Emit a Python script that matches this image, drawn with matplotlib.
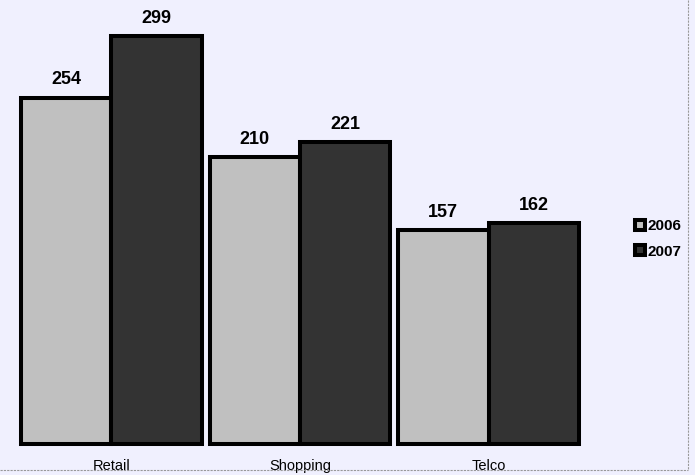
"""Grouped bar chart: 2006 vs 2007 by segment."""
import matplotlib
matplotlib.use("Agg")
import matplotlib.pyplot as plt
from matplotlib.lines import Line2D
import numpy as np

categories = ["Retail", "Shopping", "Telco"]
values_2006 = [254, 210, 157]
values_2007 = [299, 221, 162]
series_labels = ["2006", "2007"]
colors = ["#c0c0c0", "#333333"]

plt.rcParams["font.family"] = ["Liberation Sans", "DejaVu Sans"]

W, H = 695, 475
fig = plt.figure(figsize=(W / 100, H / 100), dpi=100)
fig.patch.set_facecolor("#f0f0fe")

# axes placed in pixel terms
ax = fig.add_axes([21 / W, (H - 443.5) / H, (579 - 21) / W, 443.5 / H])
ax.set_facecolor("none")

x = np.arange(len(categories))
w = 0.48
for vals, off, col in [(values_2006, -w / 2, colors[0]), (values_2007, w / 2, colors[1])]:
    bars = ax.bar(x + off, vals, width=w, color=col, edgecolor="black",
                  linewidth=2.9, clip_on=False)
    for b, v in zip(bars, vals):
        ax.annotate(str(v), (b.get_x() + b.get_width() / 2, v), xytext=(0, 6.5),
                    textcoords="offset points", ha="center", va="bottom",
                    fontsize=13, fontweight="bold")

ax.set_xlim(-w, len(categories) - 1 + w)
ax.set_ylim(0, 325.6)
ax.set_xticks(x)
ax.set_xticklabels(categories, fontsize=10.5)
ax.tick_params(axis="x", length=0, pad=11.5)
ax.set_yticks([])
for s in ax.spines.values():
    s.set_visible(False)

# legend
handles = [Line2D([], [], marker="s", linestyle="none", markersize=7,
                  markerfacecolor=c, markeredgecolor="black", markeredgewidth=2.9)
           for c in colors]
fig.legend(handles, series_labels, loc="center left",
           bbox_to_anchor=(627 / W, 1 - 239 / H), frameon=False,
           prop={"weight": "bold", "size": 11}, handlelength=0.7,
           handletextpad=0.15, labelspacing=0.75, borderpad=0)

# dashed border right / bottom
fig.add_artist(Line2D([688 / W, 688 / W], [1, 1 - 470 / H], color="#999999",
                      linestyle=(0, (2, 1)), linewidth=0.8))
fig.add_artist(Line2D([0, 688 / W], [1 - 470 / H, 1 - 470 / H], color="#999999",
                      linestyle=(0, (2, 1)), linewidth=0.8))

fig.savefig("out.png", dpi=100, facecolor=fig.get_facecolor())
